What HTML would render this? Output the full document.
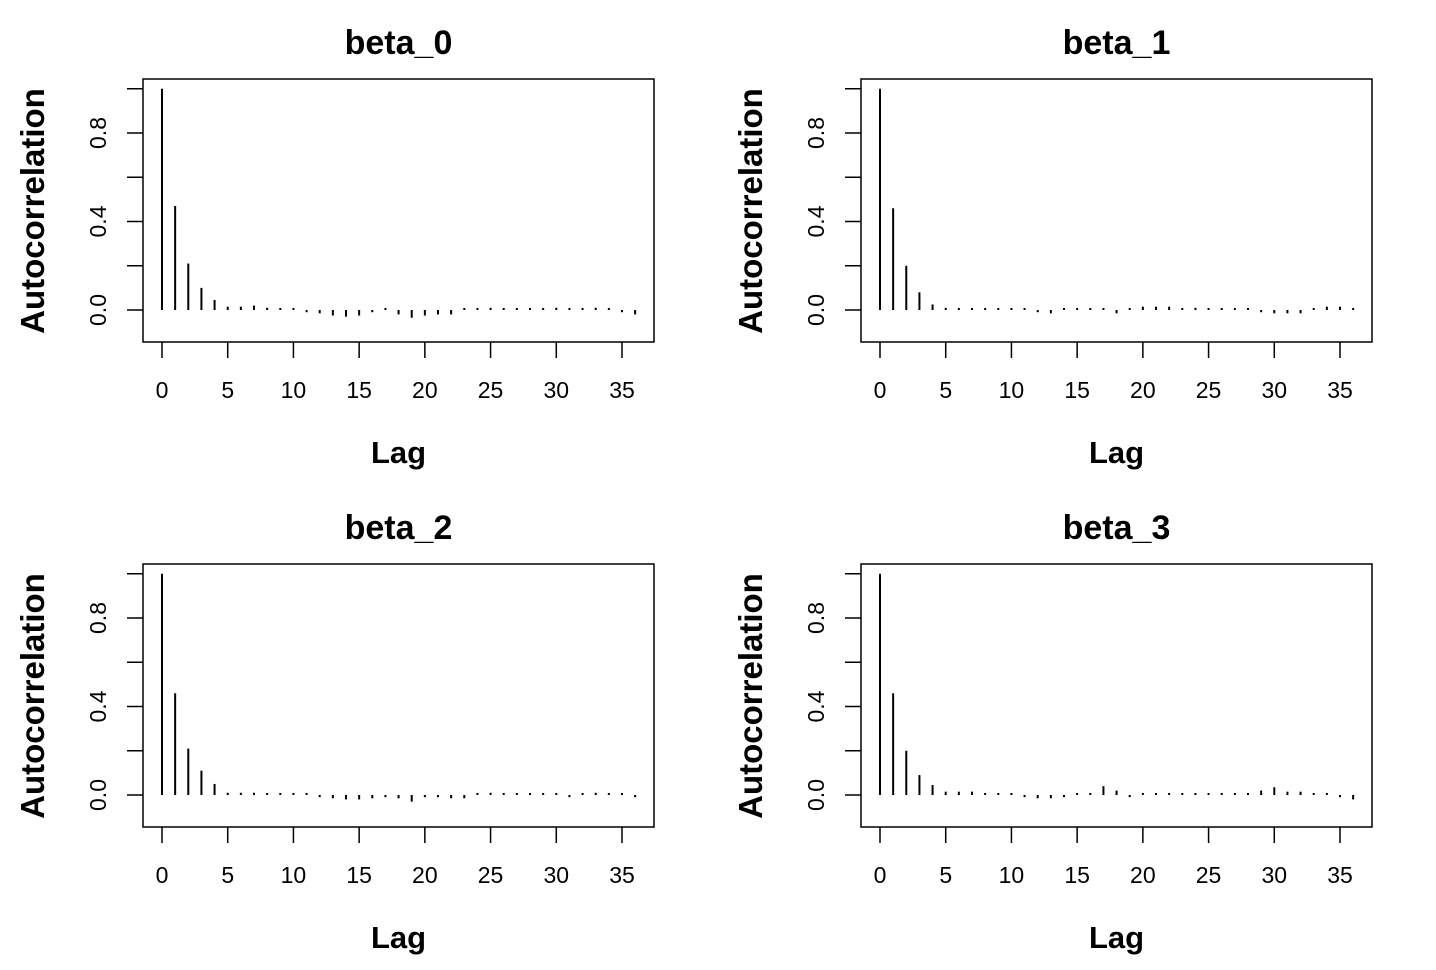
<!DOCTYPE html>
<html><head><meta charset="utf-8">
<style>
html,body{margin:0;padding:0;background:#fff;}
svg{display:block;}
text{font-family:"Liberation Sans",sans-serif;fill:#000;}
</style></head>
<body>
<svg id="chart" width="1436" height="970" viewBox="0 0 1436 970" xmlns="http://www.w3.org/2000/svg"></svg>
<script>
const panelTitles = ["beta_0","beta_1","beta_2","beta_3"];
const xTicks = [0,5,10,15,20,25,30,35];
const yTicks = [0,0.2,0.4,0.6,0.8,1.0];
const yTickLabels = ["0.0","","0.4","","0.8",""];
const acfBeta0 = [1,0.47,0.21,0.10,0.045,0.015,0.015,0.02,0.01,0.005,0.003,-0.01,-0.015,-0.025,-0.03,-0.025,-0.01,0.003,-0.02,-0.035,-0.025,-0.02,-0.02,0.003,0.007,0.01,0.005,0.003,0.003,0.007,0.01,-0.005,0.007,0.01,0.005,-0.01,-0.02];
const acfBeta1 = [1,0.46,0.20,0.08,0.025,0.01,0.005,0.003,0.003,0.002,0.002,0.002,-0.01,-0.015,0.005,0.003,0.003,0.003,-0.015,0.005,0.015,0.015,0.015,0.003,0.01,0.007,0.003,-0.005,-0.005,-0.01,-0.015,-0.015,-0.015,0.005,0.015,0.015,0.005];
const acfBeta2 = [1,0.46,0.21,0.11,0.05,0.01,0.01,0.01,0.003,0.003,0.005,0.003,-0.01,-0.015,-0.02,-0.02,-0.015,-0.01,-0.015,-0.03,-0.01,-0.01,-0.015,-0.015,0.007,0.01,0.003,0.003,0.003,0.003,0.003,-0.01,0.003,0.01,0.003,0.003,-0.01];
const acfBeta3 = [1,0.46,0.20,0.09,0.045,0.015,0.015,0.015,0.005,0.003,0.003,-0.01,-0.015,-0.015,-0.01,0.003,0.003,0.04,0.02,-0.01,-0.005,0.003,0.003,0.005,0.005,0.005,0.005,0.003,0.005,0.02,0.035,0.015,0.015,0.003,0.003,-0.01,-0.02];
const series = [acfBeta0, acfBeta1, acfBeta2, acfBeta3];

const NS = "http://www.w3.org/2000/svg";
const svg = document.getElementById("chart");
function mk(tag, attrs, parent){
  const e = document.createElementNS(NS, tag);
  for (const k in attrs) e.setAttribute(k, attrs[k]);
  parent.appendChild(e);
  return e;
}
const offsets = [[0,0],[718,0],[0,485],[718,485]];
panelTitles.forEach((title, p) => {
  const [ox, oy] = offsets[p];
  const g = mk("g", {}, svg);
  
  
  const L = 143 + ox, R = 654 + ox, T = 79 + oy, B = 342 + oy;
  const xS = v => 162 + ox + v * (622 - 162) / 35;
  const yS = v => 310 + oy - v * (310 - 133) / 0.8;
  const box = mk("rect", {x:L, y:T, width:R-L, height:B-T, fill:"none", stroke:"#000", "stroke-width":1.5}, g);
  
  
  const t = mk("text", {x:(L+R)/2, y:54+oy, "text-anchor":"middle", "font-size":34, "font-weight":"bold"}, g);
  t.textContent = title;
  
  
  yTicks.forEach((v, i) => {
    const y = yS(v);
    const tk = mk("line", {x1:127+ox, x2:L, y1:y, y2:y, stroke:"#000", "stroke-width":1.5}, g);
    
    
    if (yTickLabels[i]) {
      const tl = mk("text", {x:0, y:0, "text-anchor":"middle", "font-size":23, transform:`translate(${106+ox},${y}) rotate(-90)`}, g);
      tl.textContent = yTickLabels[i];
      
      
    }
  });
  xTicks.forEach(v => {
    const x = xS(v);
    const tk = mk("line", {x1:x, x2:x, y1:B, y2:B+16, stroke:"#000", "stroke-width":1.5}, g);
    
    
    const tl = mk("text", {x:x, y:398+oy, "text-anchor":"middle", "font-size":23}, g);
    tl.textContent = String(v);
    
    
  });
  const xl = mk("text", {x:(L+R)/2, y:463+oy, "text-anchor":"middle", "font-size":31, "font-weight":"bold"}, g);
  xl.textContent = "Lag";
  
  
  const yl = mk("text", {x:0, y:0, "text-anchor":"middle", "font-size":33, "font-weight":"bold", transform:`translate(${44+ox},${211+oy}) rotate(-90)`}, g);
  yl.textContent = "Autocorrelation";
  
  
  series[p].forEach((v, lag) => {
    const x = xS(lag);
    let y1 = yS(0), y2 = yS(v);
    if (Math.abs(y2 - y1) < 2) y2 = y1 - 2;
    const s = mk("line", {x1:x, x2:x, y1:y1, y2:y2, stroke:"#000", "stroke-width":2}, g);
    
    
  });
});
</script>
</body></html>
